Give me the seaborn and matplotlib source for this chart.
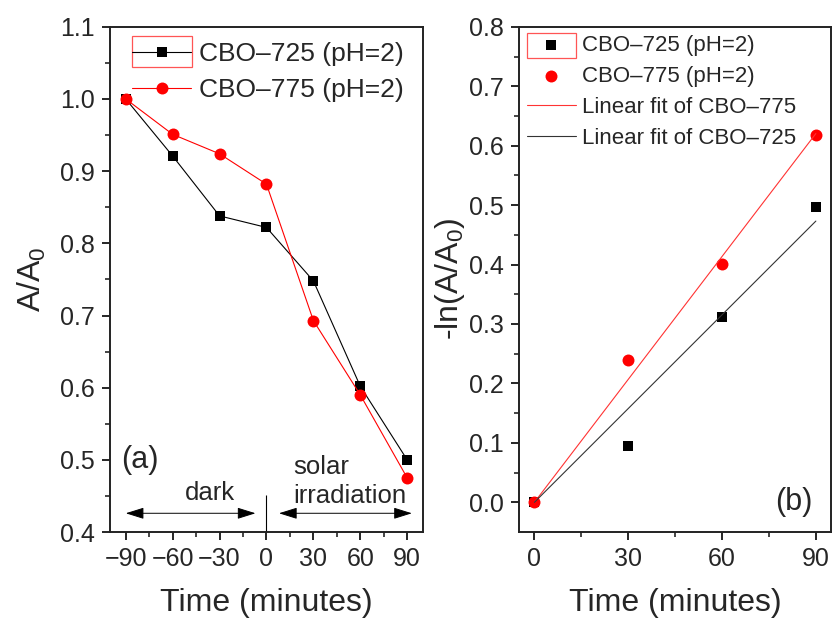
import numpy as np
import matplotlib.pyplot as plt
import seaborn as sns
from matplotlib.patches import Rectangle

# panel (a): A/A0 versus time (dark phase then solar irradiation)
time_a = [-90, -60, -30, 0, 30, 60, 90]
cbo725_a = [1.000, 0.921, 0.838, 0.822, 0.748, 0.602, 0.500]
cbo775_a = [1.000, 0.951, 0.924, 0.882, 0.693, 0.590, 0.475]

# panel (b): -ln(A/A0) under irradiation
time_b = [0, 30, 60, 90]
cbo725_b = [0.000, 0.095, 0.311, 0.497]
cbo775_b = [0.000, 0.239, 0.401, 0.618]

label_725 = 'CBO\u2013725 (pH=2)'
label_775 = 'CBO\u2013775 (pH=2)'
fit_label_775 = 'Linear fit of CBO\u2013775'
fit_label_725 = 'Linear fit of CBO\u2013725'


def origin_fit(x, y):
    # least squares slope of a line through the origin
    x = np.asarray(x, float)
    y = np.asarray(y, float)
    return (x * y).sum() / (x * x).sum()


def style_axes(ax):
    for s in ax.spines.values():
        s.set_visible(True)
        s.set_linewidth(1.4)
        s.set_color('#222222')
    ax.tick_params(which='major', direction='out', length=6, width=1.4,
                   labelsize=18, pad=5, top=False, right=False)
    ax.tick_params(which='minor', direction='out', length=3.5, width=1.2,
                   top=False, right=False)


sns.set_theme(style='ticks')
plt.rcParams['font.family'] = ['Liberation Sans', 'DejaVu Sans']
plt.rcParams['mathtext.default'] = 'regular'

fig = plt.figure(figsize=(8.34, 6.23), dpi=100)
ax1 = fig.add_axes([0.132, 0.146, 0.375, 0.811])
ax2 = fig.add_axes([0.622, 0.146, 0.375, 0.811])

# ---- (a)
sns.lineplot(x=time_a, y=cbo725_a, ax=ax1, color='black', linewidth=0.8,
             marker='s', markersize=6.8, markeredgewidth=0, label=label_725)
sns.lineplot(x=time_a, y=cbo775_a, ax=ax1, color='red', linewidth=0.8,
             marker='o', markersize=8.6, markeredgewidth=0, label=label_775)

ax1.set_xlim(-100, 100)
ax1.set_ylim(0.4, 1.1)
ax1.set_xticks([-90, -60, -30, 0, 30, 60, 90])
ax1.set_xticks([-75, -45, -15, 15, 45, 75], minor=True)
ax1.set_yticks(np.arange(0.4, 1.11, 0.1))
ax1.set_yticks(np.arange(0.45, 1.1, 0.1), minor=True)
ax1.yaxis.set_major_formatter(plt.FormatStrFormatter('%.1f'))
ax1.set_xlabel('Time (minutes)', fontsize=23)
ax1.set_ylabel('A/A$_0$', fontsize=23)
ax1.xaxis.set_label_coords(0.5, -0.11)
ax1.yaxis.set_label_coords(-0.2, 0.5)
style_axes(ax1)

ax1.legend(loc='upper left', bbox_to_anchor=(0.07, 0.97), frameon=False,
           fontsize=19, borderpad=0, borderaxespad=0, handlelength=2.25,
           handletextpad=0.3, labelspacing=0.45)
ax1.add_patch(Rectangle((0.07, 0.921), 0.193, 0.061, transform=ax1.transAxes,
                        fill=False, edgecolor='#ff5555', linewidth=0.9))

ax1.text(-93, 0.5, '(a)', fontsize=22, ha='left', va='center')
ax1.vlines(0, 0.4, 0.452, color='black', linewidth=0.8)
arrow = dict(arrowstyle='<|-|>,head_length=0.8,head_width=0.25',
             color='black', lw=0.7, mutation_scale=14, shrinkA=0, shrinkB=0)
ax1.annotate('', xy=(-90, 0.426), xytext=(-7, 0.426), arrowprops=arrow)
ax1.annotate('', xy=(8, 0.426), xytext=(93, 0.426), arrowprops=arrow)
ax1.text(-36, 0.444, 'dark', fontsize=18.5, ha='center', va='baseline')
ax1.text(17, 0.481, 'solar', fontsize=18.5, ha='left', va='baseline')
ax1.text(17, 0.440, 'irradiation', fontsize=18.5, ha='left', va='baseline')

# ---- (b)
k725 = origin_fit(time_b, cbo725_b)
k775 = origin_fit(time_b, cbo775_b)
fit_x = np.array([time_b[0], time_b[-1]], float)

sns.scatterplot(x=time_b, y=cbo725_b, ax=ax2, color='black', marker='s',
                s=52, linewidth=0, label=label_725)
sns.scatterplot(x=time_b, y=cbo775_b, ax=ax2, color='red', marker='o',
                s=74, linewidth=0, label=label_775)
sns.lineplot(x=fit_x, y=k775 * fit_x, ax=ax2, color='#ff3333',
             linewidth=0.8, label=fit_label_775)
sns.lineplot(x=fit_x, y=k725 * fit_x, ax=ax2, color='#333333',
             linewidth=0.8, label=fit_label_725)

ax2.set_xlim(-5, 95)
ax2.set_ylim(-0.05, 0.8)
ax2.set_xticks([0, 30, 60, 90])
ax2.set_xticks([15, 45, 75], minor=True)
ax2.set_yticks(np.arange(0.0, 0.81, 0.1))
ax2.set_yticks(np.arange(0.05, 0.8, 0.1), minor=True)
ax2.yaxis.set_major_formatter(plt.FormatStrFormatter('%.1f'))
ax2.set_xlabel('Time (minutes)', fontsize=23)
ax2.set_ylabel('-ln(A/A$_0$)', fontsize=23)
ax2.xaxis.set_label_coords(0.5, -0.11)
ax2.yaxis.set_label_coords(-0.165, 0.5)
style_axes(ax2)

ax2.legend(loc='upper left', bbox_to_anchor=(0.026, 0.984), frameon=False,
           fontsize=16, borderpad=0, borderaxespad=0, handlelength=2.2,
           handletextpad=0.28, labelspacing=0.45)
ax2.add_patch(Rectangle((0.026, 0.939), 0.156, 0.049, transform=ax2.transAxes,
                        fill=False, edgecolor='#ff5555', linewidth=0.9))

ax2.text(77, 0.0, '(b)', fontsize=22, ha='left', va='center')

fig.savefig('out.png', dpi=100)
